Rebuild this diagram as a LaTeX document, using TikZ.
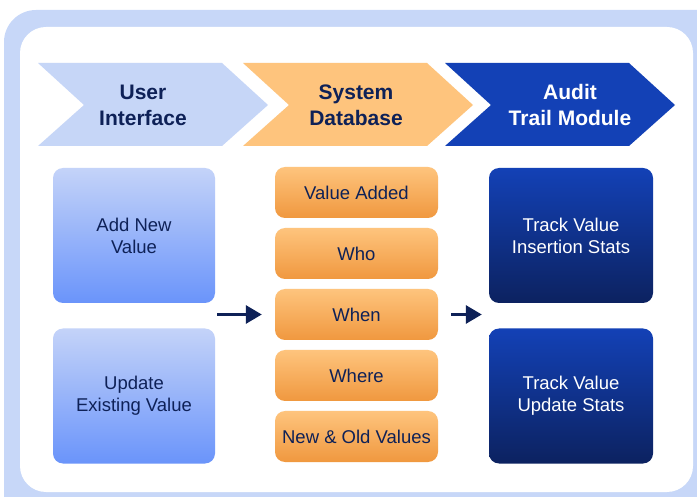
\documentclass[tikz,border=0pt]{standalone}
\usepackage{fontspec}
\setmainfont{Liberation Sans}
\usetikzlibrary{arrows.meta,calc}
\definecolor{frameblue}{HTML}{C7D7F8}
\definecolor{navy}{HTML}{0E2157}
\definecolor{chevA}{HTML}{C6D6F7}
\definecolor{chevB}{HTML}{FEC47D}
\definecolor{chevC}{HTML}{1341B6}
\definecolor{uitop}{HTML}{C4D3F9}
\definecolor{uibot}{HTML}{6A94FA}
\definecolor{dbbot}{HTML}{F0983F}
\definecolor{atbot}{HTML}{0C2260}
\tikzset{head/.style={align=center,font=\fontsize{21}{26}\selectfont\bfseries,text=navy}}
\tikzset{uibox/.style={rounded corners=10pt,minimum width=162pt,minimum height=135pt,top color=uitop,bottom color=uibot,align=center,text=navy,font=\fontsize{18.5}{22}\selectfont}}
\tikzset{dbbox/.style={rounded corners=10pt,minimum width=163pt,minimum height=51pt,top color=chevB,bottom color=dbbot,text=navy,font=\fontsize{18.5}{22}\selectfont}}
\tikzset{auditbox/.style={rounded corners=10pt,minimum width=164pt,minimum height=135pt,top color=chevC,bottom color=atbot,align=center,text=white,font=\fontsize{18.5}{22}\selectfont}}
\tikzset{flow/.style={navy,line width=3pt,-{Triangle[length=16pt,width=18pt]}}}

\begin{document}
\begin{tikzpicture}[x=1pt,y=-1pt]
  \useasboundingbox (0,0) rectangle (697,497);
  % frame
  \fill[frameblue,rounded corners=32pt] (4,10) rectangle (730,530);
  \fill[white,rounded corners=26pt] (20,27) rectangle (693,492);

  % chevrons
  \foreach \x/\c in {38/chevA,243/chevB,445/chevC}{
    \fill[\c] (\x,63) -- ++(184,0) -- ++(46,42) -- ++(-46,41) -- ++(-184,0) -- ++(46,-41) -- cycle;
  }
  \node[head] (ui) at (143,105) {User\\Interface};
  \node[head] (db) at (356,105) {System\\Database};
  \node[head,text=white] (at) at (570,105) {Audit\\Trail Module};

  % user interface
  \node[uibox] (add) at (134,235.5) {Add New\\Value};
  \node[uibox] (upd) at (134,396) {Update\\Existing Value};

  % database fields
  \node[dbbox] (added) at (356.5,192.5) {Value Added};
  \node[dbbox] (who) at (356.5,253.5) {Who};
  \node[dbbox] (when) at (356.5,314.5) {When};
  \node[dbbox] (where) at (356.5,375.5) {Where};
  \node[dbbox] (vals) at (356.5,436.5) {New \& Old Values};

  % audit trail
  \node[auditbox] (ins) at (571,235.5) {Track Value\\Insertion Stats};
  \node[auditbox] (ust) at (571,396) {Track Value\\Update Stats};

  \draw[flow] ([xshift=2pt]add.east |- when) -- ([xshift=-13pt]when.west);
  \draw[flow] ([xshift=13pt]when.east) -- ([xshift=-7pt]ins.west |- when);
\end{tikzpicture}
\end{document}
